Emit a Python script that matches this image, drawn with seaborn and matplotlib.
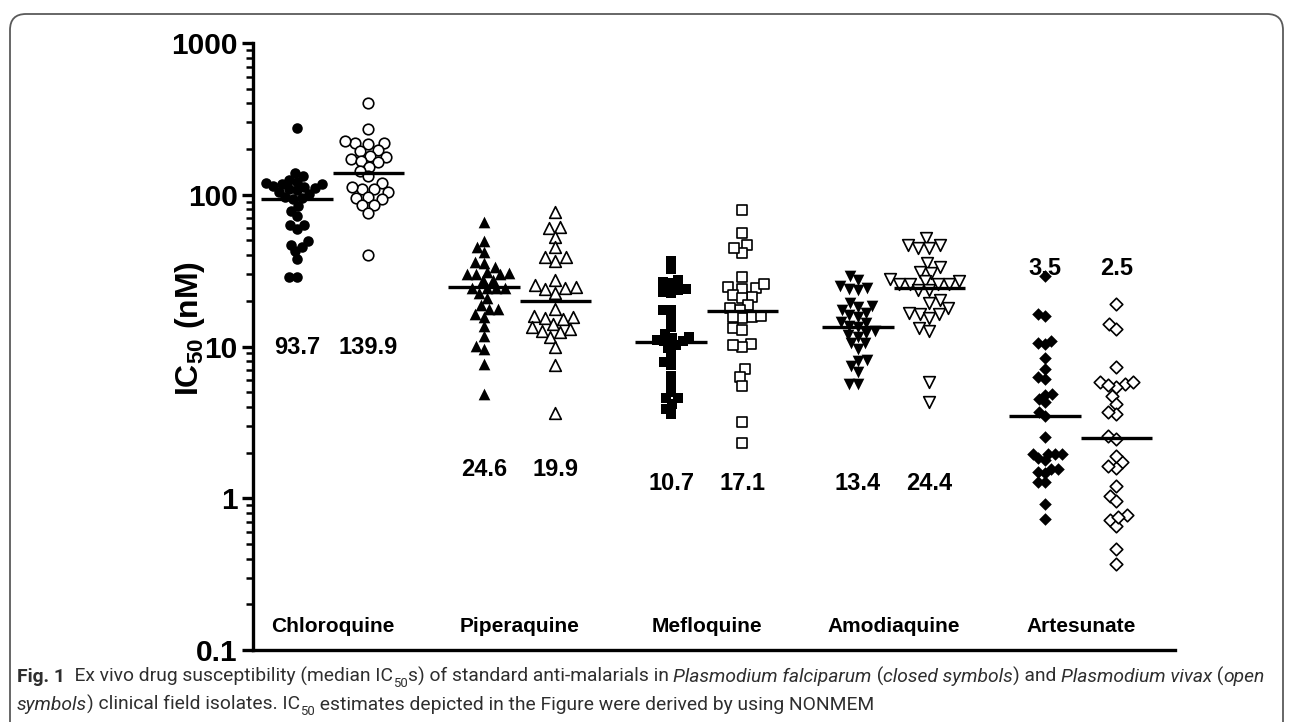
import matplotlib
matplotlib.use("Agg")
import numpy as np
import pandas as pd
import seaborn as sns
import matplotlib.pyplot as plt
from matplotlib import font_manager
from matplotlib.patches import FancyBboxPatch
from matplotlib.ticker import LogLocator, NullFormatter
import matplotlib.transforms as mtrans

# ---------------- data ----------------
categories = ["Chloroquine", "Piperaquine", "Mefloquine", "Amodiaquine", "Artesunate"]

cq_pf = [276, 140, 132, 126, 121, 119, 118, 114, 110, 107, 104, 109, 113, 117, 101.6, 95.5,
         93.8, 96.7, 84.7, 78.6, 72, 63, 63.5, 59.7, 49.2, 46.7, 45.5, 42.3, 37.6, 28.5, 28.9]
cq_pv = [403, 272, 220, 225, 220, 215, 196, 194, 181, 172, 177, 165, 168, 153, 143, 132,
         119, 109, 113, 109, 105, 94, 97, 95, 85, 86, 76, 40.2]
pq_pf = [66.6, 45.6, 49.3, 41.9, 35.5, 35.8, 33.6, 31, 30, 30, 30.5, 30, 27.5, 27.5, 24.3,
         24.3, 24.3, 24.3, 22.5, 20.8, 17.6, 17.6, 18.8, 15.7, 16.4, 13.7, 11.7, 10.1, 9.6, 7.7, 4.9]
pq_pv = [76.4, 60.2, 61, 53, 45.2, 39, 36.7, 39, 27.3, 24.7, 25.5, 24.3, 24, 22.5, 17.6,
         15.5, 15.9, 15.6, 15.1, 14, 13.5, 12.4, 13, 12.7, 11.5, 10, 7.5, 3.65]
mq_pf = [36.8, 32.4, 26.8, 26.1, 27.5, 23, 22.5, 23.6, 23.9, 17.5, 17.5, 15.3, 13.4, 12.1,
         11.0, 10.8, 11.6, 11.3, 10.8, 9.8, 10.2, 8.8, 7.9, 7.5, 6.4, 5.65, 5.0, 4.2, 4.55,
         4.55, 3.9, 3.57]
mq_pv = [79.6, 55.8, 47, 41.5, 44.3, 28.8, 24.6, 24.3, 25.9, 23.9, 21.3, 21.8, 20.8, 18.8,
         17.5, 17.9, 15.7, 15.3, 15.6, 15.9, 13.2, 12.9, 10.4, 9.9, 10.2, 7.1, 6.3, 5.5, 3.2, 2.3]
aq_pf = [29.2, 27.5, 24.9, 23.9, 23.6, 24.3, 19.3, 18.2, 16.6, 17.5, 18.5, 15.7, 16.1, 14.2,
         13.4, 13.7, 14.6, 12.7, 11.9, 12.2, 11.6, 10.6, 9.7, 10.5, 8.1, 8.0, 6.8, 7.4, 5.65, 5.7]
aq_pv = [51.8, 47, 44.6, 44.6, 47, 35.5, 33.6, 30.7, 31.2, 26, 27, 28, 26, 26, 26, 27, 23.4,
         23.4, 20.3, 19.3, 17.9, 16.4, 16.4, 16.7, 15.3, 12.6, 13.2, 5.8, 4.3]
as_pf = [29.2, 16.3, 16, 10.5, 10.4, 10.9, 8.4, 7.1, 6.1, 6.3, 4.8, 4.3, 4.5, 4.9, 3.5, 3.7,
         2.54, 1.95, 1.95, 1.95, 1.95, 1.78, 1.83, 1.49, 1.57, 1.55, 1.47, 1.28, 1.28, 0.91, 0.73]
as_pv = [19.1, 14, 13, 7.3, 5.65, 5.85, 5.4, 5.85, 5.6, 4.7, 4.2, 3.6, 3.7, 2.58, 2.45, 1.74,
         1.58, 1.63, 1.9, 1.2, 1.04, 0.96, 0.78, 0.72, 0.66, 0.75, 0.46, 0.37]

pf_values = [cq_pf, pq_pf, mq_pf, aq_pf, as_pf]
pv_values = [cq_pv, pq_pv, mq_pv, aq_pv, as_pv]
median_pf = [93.7, 24.6, 10.7, 13.4, 3.5]
median_pv = [139.9, 19.9, 17.1, 24.4, 2.5]
median_labels_pf = ["93.7", "24.6", "10.7", "13.4", "3.5"]
median_labels_pv = ["139.9", "19.9", "17.1", "24.4", "2.5"]
ytick_vals = [0.1, 1, 10, 100, 1000]
ytick_labels = ["0.1", "1", "10", "100", "1000"]

# ---------------- style ----------------
sns.set_theme(style="white")
plt.rcParams["font.family"] = ["Liberation Sans", "DejaVu Sans"]
plt.rcParams["mathtext.fontset"] = "custom"
plt.rcParams["mathtext.rm"] = "Liberation Sans"
plt.rcParams["mathtext.bf"] = "Liberation Sans:bold"


def has_font(name):
    try:
        font_manager.findfont(font_manager.FontProperties(family=name), fallback_to_default=False)
        return True
    except Exception:
        return False


cap_fam = "Roboto" if has_font("Roboto") else "Liberation Sans"

W, H = 1293, 722
fig = plt.figure(figsize=(W / 100, H / 100), dpi=100)
fig.patch.set_facecolor("white")

ax_left, ax_right, ax_top, ax_bottom = 253, 1175, 43, 650
ax = fig.add_axes([ax_left / W, 1 - ax_bottom / H, (ax_right - ax_left) / W, (ax_bottom - ax_top) / H])
ax.set_facecolor("white")
ax.set_yscale("log")
ax.set_ylim(0.1, 1000)
ax.set_xlim((ax_left - 297) / 187, (ax_right - 297) / 187)

# build long table
pair_offset = 0.382
rows = []
for i, cat in enumerate(categories):
    for v in pf_values[i]:
        rows.append((cat, "P. falciparum", v, i))
    for v in pv_values[i]:
        rows.append((cat, "P. vivax", v, i + pair_offset))
df = pd.DataFrame(rows, columns=["drug", "species", "ic50", "pos"])

markers = ["o", "^", "s", "v", "D"]
msizes = [7.6, 8.4, 7.2, 8.4, 6.4]
swarm_factor = 0.75

swarm_colls = []
for i, cat in enumerate(categories):
    for sp, closed in [("P. falciparum", True), ("P. vivax", False)]:
        sub = df[(df["drug"] == cat) & (df["species"] == sp)]
        n_before = len(ax.collections)
        sns.swarmplot(data=sub, x="pos", y="ic50", native_scale=True, orient="x",
                      marker=markers[i], size=msizes[i] * swarm_factor,
                      color="black" if closed else "white",
                      edgecolor="black", linewidth=0 if closed else 1.2,
                      ax=ax, zorder=3, warn_thresh=1.0)
        for c in ax.collections[n_before:]:
            swarm_colls.append((c, msizes[i]))

ax.set_xlim((ax_left - 297) / 187, (ax_right - 297) / 187)
ax.set_ylim(0.1, 1000)

# compute swarm positions with compact spacing, then enlarge markers (GraphPad-like overlap)
fig.canvas.draw()
for c, ms in swarm_colls:
    if "draw" in c.__dict__:
        del c.draw
    c.set_sizes([ms ** 2])

half = 0.19
for i in range(len(categories)):
    for j, med in enumerate([median_pf[i], median_pv[i]]):
        p = i + j * pair_offset
        ax.hlines(med, p - half, p + half, color="black", lw=2.4, zorder=5)

trans = mtrans.blended_transform_factory(ax.transData, ax.transAxes)
label_y = [0.499, 0.298, 0.275, 0.275, 0.629]
for i in range(len(categories)):
    ax.text(i, label_y[i], median_labels_pf[i], transform=trans, ha="center", va="center",
            fontsize=17, fontweight="bold", color="black")
    ax.text(i + pair_offset, label_y[i], median_labels_pv[i], transform=trans, ha="center",
            va="center", fontsize=17, fontweight="bold", color="black")
    ax.text(i + pair_offset / 2, 0.038, categories[i], transform=trans, ha="center",
            va="center", fontsize=15, fontweight="bold", color="black")

# axes styling
for s in ["top", "right"]:
    ax.spines[s].set_visible(False)
for s in ["left", "bottom"]:
    ax.spines[s].set_linewidth(2.4)
    ax.spines[s].set_color("black")
ax.set_xticks([])
ax.set_xlabel("")
ax.set_yticks(ytick_vals, labels=ytick_labels)
ax.yaxis.set_minor_locator(LogLocator(base=10, subs=np.arange(2, 10)))
ax.yaxis.set_minor_formatter(NullFormatter())
ax.tick_params(axis="y", which="major", length=8, width=2.4, direction="out",
               labelsize=21.5, pad=3, colors="black", left=True)
ax.tick_params(axis="y", which="minor", length=5, width=1.8, direction="out",
               colors="black", left=True)
for lbl in ax.get_yticklabels():
    lbl.set_fontweight("bold")
    lbl.set_va("center_baseline")
ax.set_ylabel(r"IC$_{\mathbf{50}}$ (nM)", fontsize=23, fontweight="bold", color="black")
ax.yaxis.set_label_coords(-0.05, 0.53)
ax.grid(False)

# border frame (rounded, bottom cut off)
frame = FancyBboxPatch((10, -60), 1273, (H - 14) + 60,
                       boxstyle="round,pad=0,rounding_size=16",
                       transform=None, fill=False, edgecolor="#5a5a5a", lw=1.3)
fig.add_artist(frame)

# caption
cap_color = "#2e2e2e"
line1 = [("Fig. 1", "b"),
         ("  Ex vivo drug susceptibility (median IC", "r"), ("50", "sub"),
         ("s) of standard anti-malarials in ", "r"),
         ("Plasmodium falciparum", "i"), (" (", "r"), ("closed symbols", "i"), (") and ", "r"),
         ("Plasmodium vivax", "i"), (" (", "r"), ("open", "i")]
line2 = [("symbols", "i"), (") clinical field isolates. IC", "r"), ("50", "sub"),
         (" estimates depicted in the Figure were derived by using NONMEM", "r")]

renderer = fig.canvas.get_renderer()


def kw(style, size):
    return dict(family=cap_fam,
                fontsize=size * (0.68 if style == "sub" else 1.0),
                fontweight="bold" if style == "b" else "normal",
                fontstyle="italic" if style == "i" else "normal",
                color=cap_color)


def measure(txt, k):
    t1 = fig.text(0, 0, "|" + txt + "|", **k)
    w1 = t1.get_window_extent(renderer).width
    t1.remove()
    t0 = fig.text(0, 0, "||", **k)
    w0 = t0.get_window_extent(renderer).width
    t0.remove()
    return w1 - w0


base = 11.0
w1 = sum(measure(t, kw(s, base)) for t, s in line1)
size = base * (1263 - 17) / w1


def draw(runs, y_base):
    x = 17.0
    for t, s in runs:
        k = kw(s, size)
        dy = size * 100 / 72 * 0.28 if s == "sub" else 0.0
        fig.text(x / W, (H - y_base - dy) / H, t, ha="left", va="baseline", **k)
        x += measure(t, k)


draw(line1, 682)
draw(line2, 710)

fig.savefig("out.png", dpi=100, facecolor="white")
